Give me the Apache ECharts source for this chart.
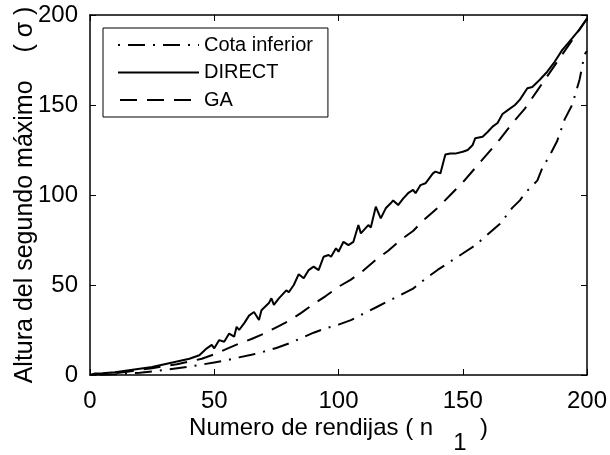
<!DOCTYPE html>
<html>
<head>
<meta charset="utf-8">
<script src="https://cdn.jsdelivr.net/npm/echarts@6/dist/echarts.min.js"></script>
<style>
  html, body { margin: 0; padding: 0; background: #fff; }
  #chart { width: 610px; height: 455px; }
</style>
</head>
<body>
<div id="chart"></div>
<script>
// Lower bound (dash-dot)
const boundN = [0, 10, 20, 25, 30, 40, 50, 55, 60, 65, 70, 75, 80, 85, 90, 95, 100, 105, 110, 115, 120, 125, 130, 135, 140, 145, 150, 155, 160, 165, 170, 173, 175, 180, 182, 185, 188, 191, 194, 197, 199, 200];
const boundH = [0, 0.4, 1.3, 2, 2.8, 4.6, 7, 8.2, 9.8, 11.2, 13, 15, 17.5, 20.5, 23.5, 26, 28, 30.5, 34, 37.5, 41, 44.5, 48, 53.5, 58.5, 63, 67.5, 72, 78, 84, 93, 97, 101, 108, 115, 122, 130, 142, 150, 164, 178, 180];

// DIRECT optimisation (solid)
const directN = [0, 2, 5, 10, 15, 20, 25, 30, 35, 40, 42, 44, 47, 49, 50, 52, 54, 56, 58, 59, 60, 62, 64, 66, 68, 69, 72, 73, 74, 76, 79, 80, 82, 84, 86, 88, 90, 92, 94, 96, 97, 99, 100, 102, 104, 106, 108, 109, 112, 113, 115, 117, 119, 121, 122, 124, 126, 128, 130, 131, 133, 135, 138, 139, 141, 143, 145, 147, 150, 152, 154, 155, 158, 160, 162, 164, 166, 168, 171, 173, 176, 178, 181, 184, 187, 190, 194, 197, 199, 200];
const directH = [0, 0.8, 1, 1.5, 2.5, 3.5, 4.5, 6, 7.5, 9, 10, 11, 14.8, 16.7, 14.8, 19.4, 18.5, 23, 21.3, 26.8, 25, 28.7, 33, 35, 30.6, 36, 40, 42.6, 39, 42.6, 47, 46, 50, 56, 53.7, 58.3, 60.2, 58.3, 65.7, 66.7, 65.7, 70.4, 68.5, 74, 72.2, 74, 83.3, 78.7, 83.3, 82, 93.5, 87, 92.6, 95.4, 97, 94.4, 98, 101, 102.8, 101, 105.5, 106.5, 112, 113, 112, 122.5, 123, 123, 124, 125, 127.8, 131.5, 132.4, 135, 138, 140, 145, 147, 150, 153, 159.3, 160, 164, 168.5, 174, 180.5, 187, 192, 196, 198];

// Genetic algorithm (dashed)
const gaN = [0, 5, 10, 15, 20, 25, 30, 35, 40, 45, 50, 55, 60, 65, 70, 75, 80, 85, 90, 95, 100, 105, 110, 115, 120, 125, 130, 135, 140, 145, 150, 155, 160, 165, 170, 175, 180, 185, 190, 195, 200];
const gaH = [0, 0.5, 1, 1.8, 2.8, 3.8, 5, 6, 7.5, 9, 11.5, 14.5, 17.5, 20, 23, 26.5, 30, 34.5, 39.5, 44, 49, 53, 58, 64, 69, 75, 80, 87, 93, 100, 107, 115, 123, 131, 140, 148, 158, 168, 178, 188, 198];

const xTicks = [0, 50, 100, 150, 200];
const yTicks = [0, 50, 100, 150, 200];

const seriesNames = ['Cota inferior', 'DIRECT', 'GA'];

const pairs = (xs, ys) => xs.map((x, i) => [x, ys[i]]);

const FONT = '"Liberation Sans", Arial, Helvetica, sans-serif';
const INK = '#000';

const axisCommon = {
  type: 'value',
  min: xTicks[0],
  max: xTicks[xTicks.length - 1],
  interval: xTicks[1] - xTicks[0],
  axisLine: { show: true, onZero: false, lineStyle: { color: INK, width: 1.5 } },
  axisTick: { show: true, inside: true, length: 6, lineStyle: { color: INK, width: 1 } },
  splitLine: { show: false }
};

const chart = echarts.init(document.getElementById('chart'), null, { renderer: 'canvas' });

chart.setOption({
  animation: false,
  backgroundColor: '#fff',
  textStyle: { fontFamily: FONT, color: INK },
  grid: { left: 90, right: 23, top: 15, bottom: 80, containLabel: false, outerBoundsMode: 'none' },
  legend: {
    orient: 'vertical',
    left: 103,
    top: 28,
    width: 232,
    padding: [7, 15, 7, 14],
    borderColor: INK,
    borderWidth: 1,
    backgroundColor: '#fff',
    itemWidth: 81,
    itemHeight: 14,
    itemGap: 7.5,
    itemStyle: { opacity: 0 },
    data: seriesNames,
    textStyle: { fontFamily: FONT, fontSize: 20, color: INK, lineHeight: 20 }
  },
  xAxis: [
    Object.assign({}, axisCommon, {
      position: 'bottom',
      axisLabel: { fontSize: 24, color: INK, margin: 14, fontFamily: FONT },
      name: '{t|Numero de rendijas ( n   }{s|1}{t|  )}',
      nameLocation: 'middle',
      nameGap: 41,
      nameMoveOverlap: false,
      nameTextStyle: {
        rich: {
          t: { fontSize: 24, fontFamily: FONT, color: INK, verticalAlign: 'top', lineHeight: 24 },
          s: { fontSize: 24, fontFamily: FONT, color: INK, verticalAlign: 'top', lineHeight: 24, padding: [15, 0, 0, 0] }
        }
      }
    }),
    Object.assign({}, axisCommon, {
      position: 'top',
      axisLabel: { show: false }
    })
  ],
  yAxis: [
    Object.assign({}, axisCommon, {
      min: yTicks[0],
      max: yTicks[yTicks.length - 1],
      interval: yTicks[1] - yTicks[0],
      position: 'left',
      axisLabel: { fontSize: 24, color: INK, margin: 12, fontFamily: FONT },
      name: 'Altura del segundo máximo    ( σ )',
      nameLocation: 'middle',
      nameGap: 52,
      nameMoveOverlap: false,
      nameTextStyle: { fontSize: 25, fontFamily: FONT, color: INK }
    }),
    Object.assign({}, axisCommon, {
      min: yTicks[0],
      max: yTicks[yTicks.length - 1],
      interval: yTicks[1] - yTicks[0],
      position: 'right',
      axisLabel: { show: false }
    })
  ],
  series: [
    {
      name: seriesNames[0],
      type: 'line',
      data: pairs(boundN, boundH),
      symbol: 'none',
      color: INK,
      lineStyle: { color: INK, width: 2, type: [17, 8, 2, 8], dashOffset: 25 }
    },
    {
      name: seriesNames[1],
      type: 'line',
      data: pairs(directN, directH),
      symbol: 'none',
      color: INK,
      lineStyle: { color: INK, width: 2, type: 'solid' }
    },
    {
      name: seriesNames[2],
      type: 'line',
      data: pairs(gaN, gaH),
      symbol: 'none',
      color: INK,
      lineStyle: { color: INK, width: 2, type: [17, 10] }
    }
  ]
});
</script>
</body>
</html>
